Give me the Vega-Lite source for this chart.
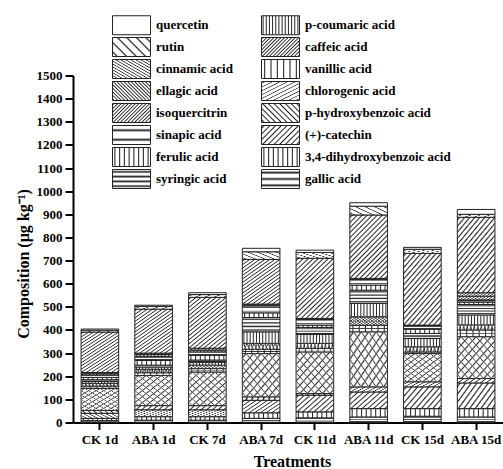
{
  "$schema": "https://vega.github.io/schema/vega-lite/v6.json",
  "width": 430,
  "height": 347,
  "autosize": {"type": "none"},
  "padding": {"left": 73, "top": 75.5, "right": 0, "bottom": 46.5},
  "background": "white",
  "config": {"view": {"stroke": null}, "font": "Liberation Serif"},
  "params": [
    {
      "name": "pats",
      "value": {
        "quercetin": "#ffffff",
        "p-coumaric acid": {"gradient": "linear", "x1": 0, "y1": 0, "x2": 1, "y2": 0, "stops": [
          {"offset": 0.016, "color": "#fff"}, {"offset": 0.042, "color": "#222"}, {"offset": 0.068, "color": "#fff"},
          {"offset": 0.099, "color": "#fff"}, {"offset": 0.125, "color": "#222"}, {"offset": 0.151, "color": "#fff"},
          {"offset": 0.182, "color": "#fff"}, {"offset": 0.208, "color": "#222"}, {"offset": 0.234, "color": "#fff"},
          {"offset": 0.266, "color": "#fff"}, {"offset": 0.292, "color": "#222"}, {"offset": 0.318, "color": "#fff"},
          {"offset": 0.349, "color": "#fff"}, {"offset": 0.375, "color": "#222"}, {"offset": 0.401, "color": "#fff"},
          {"offset": 0.432, "color": "#fff"}, {"offset": 0.458, "color": "#222"}, {"offset": 0.484, "color": "#fff"},
          {"offset": 0.516, "color": "#fff"}, {"offset": 0.542, "color": "#222"}, {"offset": 0.568, "color": "#fff"},
          {"offset": 0.599, "color": "#fff"}, {"offset": 0.625, "color": "#222"}, {"offset": 0.651, "color": "#fff"},
          {"offset": 0.682, "color": "#fff"}, {"offset": 0.708, "color": "#222"}, {"offset": 0.734, "color": "#fff"},
          {"offset": 0.766, "color": "#fff"}, {"offset": 0.792, "color": "#222"}, {"offset": 0.818, "color": "#fff"},
          {"offset": 0.849, "color": "#fff"}, {"offset": 0.875, "color": "#222"}, {"offset": 0.901, "color": "#fff"},
          {"offset": 0.932, "color": "#fff"}, {"offset": 0.958, "color": "#222"}, {"offset": 0.984, "color": "#fff"}
        ]},
        "rutin": {"gradient": "linear", "x1": 0, "y1": 1, "x2": 1.2, "y2": 0.4, "stops": [
          {"offset": 0.053, "color": "#fff"}, {"offset": 0.083, "color": "#222"}, {"offset": 0.113, "color": "#fff"},
          {"offset": 0.22, "color": "#fff"}, {"offset": 0.25, "color": "#222"}, {"offset": 0.28, "color": "#fff"},
          {"offset": 0.387, "color": "#fff"}, {"offset": 0.417, "color": "#222"}, {"offset": 0.447, "color": "#fff"},
          {"offset": 0.553, "color": "#fff"}, {"offset": 0.583, "color": "#222"}, {"offset": 0.613, "color": "#fff"},
          {"offset": 0.72, "color": "#fff"}, {"offset": 0.75, "color": "#222"}, {"offset": 0.78, "color": "#fff"},
          {"offset": 0.887, "color": "#fff"}, {"offset": 0.917, "color": "#222"}, {"offset": 0.947, "color": "#fff"}
        ]},
        "caffeic acid": {"gradient": "linear", "x1": 0, "y1": 0, "x2": 1.2, "y2": 0.6, "stops": [
          {"offset": 0.009, "color": "#fff"}, {"offset": 0.031, "color": "#222"}, {"offset": 0.053, "color": "#fff"},
          {"offset": 0.072, "color": "#fff"}, {"offset": 0.094, "color": "#222"}, {"offset": 0.116, "color": "#fff"},
          {"offset": 0.134, "color": "#fff"}, {"offset": 0.156, "color": "#222"}, {"offset": 0.178, "color": "#fff"},
          {"offset": 0.197, "color": "#fff"}, {"offset": 0.219, "color": "#222"}, {"offset": 0.241, "color": "#fff"},
          {"offset": 0.259, "color": "#fff"}, {"offset": 0.281, "color": "#222"}, {"offset": 0.303, "color": "#fff"},
          {"offset": 0.322, "color": "#fff"}, {"offset": 0.344, "color": "#222"}, {"offset": 0.366, "color": "#fff"},
          {"offset": 0.384, "color": "#fff"}, {"offset": 0.406, "color": "#222"}, {"offset": 0.428, "color": "#fff"},
          {"offset": 0.447, "color": "#fff"}, {"offset": 0.469, "color": "#222"}, {"offset": 0.491, "color": "#fff"},
          {"offset": 0.509, "color": "#fff"}, {"offset": 0.531, "color": "#222"}, {"offset": 0.553, "color": "#fff"},
          {"offset": 0.572, "color": "#fff"}, {"offset": 0.594, "color": "#222"}, {"offset": 0.616, "color": "#fff"},
          {"offset": 0.634, "color": "#fff"}, {"offset": 0.656, "color": "#222"}, {"offset": 0.678, "color": "#fff"},
          {"offset": 0.697, "color": "#fff"}, {"offset": 0.719, "color": "#222"}, {"offset": 0.741, "color": "#fff"},
          {"offset": 0.759, "color": "#fff"}, {"offset": 0.781, "color": "#222"}, {"offset": 0.803, "color": "#fff"},
          {"offset": 0.822, "color": "#fff"}, {"offset": 0.844, "color": "#222"}, {"offset": 0.866, "color": "#fff"},
          {"offset": 0.884, "color": "#fff"}, {"offset": 0.906, "color": "#222"}, {"offset": 0.928, "color": "#fff"},
          {"offset": 0.947, "color": "#fff"}, {"offset": 0.969, "color": "#222"}, {"offset": 0.991, "color": "#fff"}
        ]},
        "cinnamic acid": {"gradient": "linear", "x1": 0, "y1": 0, "x2": 0.706, "y2": 1.176, "stops": [
          {"offset": 0.011, "color": "#fff"}, {"offset": 0.025, "color": "#222"}, {"offset": 0.039, "color": "#fff"},
          {"offset": 0.061, "color": "#fff"}, {"offset": 0.075, "color": "#222"}, {"offset": 0.089, "color": "#fff"},
          {"offset": 0.111, "color": "#fff"}, {"offset": 0.125, "color": "#222"}, {"offset": 0.139, "color": "#fff"},
          {"offset": 0.161, "color": "#fff"}, {"offset": 0.175, "color": "#222"}, {"offset": 0.189, "color": "#fff"},
          {"offset": 0.211, "color": "#fff"}, {"offset": 0.225, "color": "#222"}, {"offset": 0.239, "color": "#fff"},
          {"offset": 0.261, "color": "#fff"}, {"offset": 0.275, "color": "#222"}, {"offset": 0.289, "color": "#fff"},
          {"offset": 0.311, "color": "#fff"}, {"offset": 0.325, "color": "#222"}, {"offset": 0.339, "color": "#fff"},
          {"offset": 0.361, "color": "#fff"}, {"offset": 0.375, "color": "#222"}, {"offset": 0.389, "color": "#fff"},
          {"offset": 0.411, "color": "#fff"}, {"offset": 0.425, "color": "#222"}, {"offset": 0.439, "color": "#fff"},
          {"offset": 0.461, "color": "#fff"}, {"offset": 0.475, "color": "#222"}, {"offset": 0.489, "color": "#fff"},
          {"offset": 0.511, "color": "#fff"}, {"offset": 0.525, "color": "#222"}, {"offset": 0.539, "color": "#fff"},
          {"offset": 0.561, "color": "#fff"}, {"offset": 0.575, "color": "#222"}, {"offset": 0.589, "color": "#fff"},
          {"offset": 0.611, "color": "#fff"}, {"offset": 0.625, "color": "#222"}, {"offset": 0.639, "color": "#fff"},
          {"offset": 0.661, "color": "#fff"}, {"offset": 0.675, "color": "#222"}, {"offset": 0.689, "color": "#fff"},
          {"offset": 0.711, "color": "#fff"}, {"offset": 0.725, "color": "#222"}, {"offset": 0.739, "color": "#fff"},
          {"offset": 0.761, "color": "#fff"}, {"offset": 0.775, "color": "#222"}, {"offset": 0.789, "color": "#fff"},
          {"offset": 0.811, "color": "#fff"}, {"offset": 0.825, "color": "#222"}, {"offset": 0.839, "color": "#fff"},
          {"offset": 0.861, "color": "#fff"}, {"offset": 0.875, "color": "#222"}, {"offset": 0.889, "color": "#fff"},
          {"offset": 0.911, "color": "#fff"}, {"offset": 0.925, "color": "#222"}, {"offset": 0.939, "color": "#fff"},
          {"offset": 0.961, "color": "#fff"}, {"offset": 0.975, "color": "#222"}, {"offset": 0.989, "color": "#fff"}
        ]},
        "vanillic acid": {"gradient": "linear", "x1": 0, "y1": 0, "x2": 1, "y2": 0, "stops": [
          {"offset": 0.055, "color": "#fff"}, {"offset": 0.083, "color": "#222"}, {"offset": 0.111, "color": "#fff"},
          {"offset": 0.222, "color": "#fff"}, {"offset": 0.25, "color": "#222"}, {"offset": 0.278, "color": "#fff"},
          {"offset": 0.389, "color": "#fff"}, {"offset": 0.417, "color": "#222"}, {"offset": 0.445, "color": "#fff"},
          {"offset": 0.555, "color": "#fff"}, {"offset": 0.583, "color": "#222"}, {"offset": 0.611, "color": "#fff"},
          {"offset": 0.722, "color": "#fff"}, {"offset": 0.75, "color": "#222"}, {"offset": 0.778, "color": "#fff"},
          {"offset": 0.889, "color": "#fff"}, {"offset": 0.917, "color": "#222"}, {"offset": 0.945, "color": "#fff"}
        ]},
        "ellagic acid": {"gradient": "linear", "x1": 0, "y1": 1, "x2": 1.2, "y2": 0.4, "stops": [
          {"offset": 0.009, "color": "#fff"}, {"offset": 0.031, "color": "#222"}, {"offset": 0.053, "color": "#fff"},
          {"offset": 0.072, "color": "#fff"}, {"offset": 0.094, "color": "#222"}, {"offset": 0.116, "color": "#fff"},
          {"offset": 0.134, "color": "#fff"}, {"offset": 0.156, "color": "#222"}, {"offset": 0.178, "color": "#fff"},
          {"offset": 0.197, "color": "#fff"}, {"offset": 0.219, "color": "#222"}, {"offset": 0.241, "color": "#fff"},
          {"offset": 0.259, "color": "#fff"}, {"offset": 0.281, "color": "#222"}, {"offset": 0.303, "color": "#fff"},
          {"offset": 0.322, "color": "#fff"}, {"offset": 0.344, "color": "#222"}, {"offset": 0.366, "color": "#fff"},
          {"offset": 0.384, "color": "#fff"}, {"offset": 0.406, "color": "#222"}, {"offset": 0.428, "color": "#fff"},
          {"offset": 0.447, "color": "#fff"}, {"offset": 0.469, "color": "#222"}, {"offset": 0.491, "color": "#fff"},
          {"offset": 0.509, "color": "#fff"}, {"offset": 0.531, "color": "#222"}, {"offset": 0.553, "color": "#fff"},
          {"offset": 0.572, "color": "#fff"}, {"offset": 0.594, "color": "#222"}, {"offset": 0.616, "color": "#fff"},
          {"offset": 0.634, "color": "#fff"}, {"offset": 0.656, "color": "#222"}, {"offset": 0.678, "color": "#fff"},
          {"offset": 0.697, "color": "#fff"}, {"offset": 0.719, "color": "#222"}, {"offset": 0.741, "color": "#fff"},
          {"offset": 0.759, "color": "#fff"}, {"offset": 0.781, "color": "#222"}, {"offset": 0.803, "color": "#fff"},
          {"offset": 0.822, "color": "#fff"}, {"offset": 0.844, "color": "#222"}, {"offset": 0.866, "color": "#fff"},
          {"offset": 0.884, "color": "#fff"}, {"offset": 0.906, "color": "#222"}, {"offset": 0.928, "color": "#fff"},
          {"offset": 0.947, "color": "#fff"}, {"offset": 0.969, "color": "#222"}, {"offset": 0.991, "color": "#fff"}
        ]},
        "chlorogenic acid": {"gradient": "linear", "x1": 0, "y1": 0, "x2": 1, "y2": 1, "stops": [
          {"offset": 0.03, "color": "#fff"}, {"offset": 0.05, "color": "#333"}, {"offset": 0.07, "color": "#fff"},
          {"offset": 0.13, "color": "#fff"}, {"offset": 0.15, "color": "#333"}, {"offset": 0.17, "color": "#fff"},
          {"offset": 0.23, "color": "#fff"}, {"offset": 0.25, "color": "#333"}, {"offset": 0.27, "color": "#fff"},
          {"offset": 0.33, "color": "#fff"}, {"offset": 0.35, "color": "#333"}, {"offset": 0.37, "color": "#fff"},
          {"offset": 0.43, "color": "#fff"}, {"offset": 0.45, "color": "#333"}, {"offset": 0.47, "color": "#fff"},
          {"offset": 0.53, "color": "#fff"}, {"offset": 0.55, "color": "#333"}, {"offset": 0.57, "color": "#fff"},
          {"offset": 0.63, "color": "#fff"}, {"offset": 0.65, "color": "#333"}, {"offset": 0.67, "color": "#fff"},
          {"offset": 0.73, "color": "#fff"}, {"offset": 0.75, "color": "#333"}, {"offset": 0.77, "color": "#fff"},
          {"offset": 0.83, "color": "#fff"}, {"offset": 0.85, "color": "#333"}, {"offset": 0.87, "color": "#fff"},
          {"offset": 0.93, "color": "#fff"}, {"offset": 0.95, "color": "#333"}, {"offset": 0.97, "color": "#fff"}
        ]},
        "isoquercitrin": {"gradient": "linear", "x1": 0, "y1": 0, "x2": 1.2, "y2": 0.6, "stops": [
          {"offset": 0.009, "color": "#fff"}, {"offset": 0.031, "color": "#222"}, {"offset": 0.053, "color": "#fff"},
          {"offset": 0.072, "color": "#fff"}, {"offset": 0.094, "color": "#222"}, {"offset": 0.116, "color": "#fff"},
          {"offset": 0.134, "color": "#fff"}, {"offset": 0.156, "color": "#222"}, {"offset": 0.178, "color": "#fff"},
          {"offset": 0.197, "color": "#fff"}, {"offset": 0.219, "color": "#222"}, {"offset": 0.241, "color": "#fff"},
          {"offset": 0.259, "color": "#fff"}, {"offset": 0.281, "color": "#222"}, {"offset": 0.303, "color": "#fff"},
          {"offset": 0.322, "color": "#fff"}, {"offset": 0.344, "color": "#222"}, {"offset": 0.366, "color": "#fff"},
          {"offset": 0.384, "color": "#fff"}, {"offset": 0.406, "color": "#222"}, {"offset": 0.428, "color": "#fff"},
          {"offset": 0.447, "color": "#fff"}, {"offset": 0.469, "color": "#222"}, {"offset": 0.491, "color": "#fff"},
          {"offset": 0.509, "color": "#fff"}, {"offset": 0.531, "color": "#222"}, {"offset": 0.553, "color": "#fff"},
          {"offset": 0.572, "color": "#fff"}, {"offset": 0.594, "color": "#222"}, {"offset": 0.616, "color": "#fff"},
          {"offset": 0.634, "color": "#fff"}, {"offset": 0.656, "color": "#222"}, {"offset": 0.678, "color": "#fff"},
          {"offset": 0.697, "color": "#fff"}, {"offset": 0.719, "color": "#222"}, {"offset": 0.741, "color": "#fff"},
          {"offset": 0.759, "color": "#fff"}, {"offset": 0.781, "color": "#222"}, {"offset": 0.803, "color": "#fff"},
          {"offset": 0.822, "color": "#fff"}, {"offset": 0.844, "color": "#222"}, {"offset": 0.866, "color": "#fff"},
          {"offset": 0.884, "color": "#fff"}, {"offset": 0.906, "color": "#222"}, {"offset": 0.928, "color": "#fff"},
          {"offset": 0.947, "color": "#fff"}, {"offset": 0.969, "color": "#222"}, {"offset": 0.991, "color": "#fff"}
        ]},
        "p-hydroxybenzoic acid": {"gradient": "linear", "x1": 0, "y1": 1, "x2": 1.2, "y2": 0.4, "stops": [
          {"offset": 0.025, "color": "#fff"}, {"offset": 0.05, "color": "#222"}, {"offset": 0.075, "color": "#fff"},
          {"offset": 0.125, "color": "#fff"}, {"offset": 0.15, "color": "#222"}, {"offset": 0.175, "color": "#fff"},
          {"offset": 0.225, "color": "#fff"}, {"offset": 0.25, "color": "#222"}, {"offset": 0.275, "color": "#fff"},
          {"offset": 0.325, "color": "#fff"}, {"offset": 0.35, "color": "#222"}, {"offset": 0.375, "color": "#fff"},
          {"offset": 0.425, "color": "#fff"}, {"offset": 0.45, "color": "#222"}, {"offset": 0.475, "color": "#fff"},
          {"offset": 0.525, "color": "#fff"}, {"offset": 0.55, "color": "#222"}, {"offset": 0.575, "color": "#fff"},
          {"offset": 0.625, "color": "#fff"}, {"offset": 0.65, "color": "#222"}, {"offset": 0.675, "color": "#fff"},
          {"offset": 0.725, "color": "#fff"}, {"offset": 0.75, "color": "#222"}, {"offset": 0.775, "color": "#fff"},
          {"offset": 0.825, "color": "#fff"}, {"offset": 0.85, "color": "#222"}, {"offset": 0.875, "color": "#fff"},
          {"offset": 0.925, "color": "#fff"}, {"offset": 0.95, "color": "#222"}, {"offset": 0.975, "color": "#fff"}
        ]},
        "sinapic acid": {"gradient": "linear", "x1": 0, "y1": 0, "x2": 0.0001, "y2": 1, "stops": [
          {"offset": 0.15, "color": "#fff"}, {"offset": 0.25, "color": "#222"}, {"offset": 0.35, "color": "#fff"},
          {"offset": 0.65, "color": "#fff"}, {"offset": 0.75, "color": "#222"}, {"offset": 0.85, "color": "#fff"}
        ]},
        "(+)-catechin": {"gradient": "linear", "x1": 0, "y1": 0, "x2": 1.2, "y2": 0.6, "stops": [
          {"offset": 0.025, "color": "#fff"}, {"offset": 0.05, "color": "#222"}, {"offset": 0.075, "color": "#fff"},
          {"offset": 0.125, "color": "#fff"}, {"offset": 0.15, "color": "#222"}, {"offset": 0.175, "color": "#fff"},
          {"offset": 0.225, "color": "#fff"}, {"offset": 0.25, "color": "#222"}, {"offset": 0.275, "color": "#fff"},
          {"offset": 0.325, "color": "#fff"}, {"offset": 0.35, "color": "#222"}, {"offset": 0.375, "color": "#fff"},
          {"offset": 0.425, "color": "#fff"}, {"offset": 0.45, "color": "#222"}, {"offset": 0.475, "color": "#fff"},
          {"offset": 0.525, "color": "#fff"}, {"offset": 0.55, "color": "#222"}, {"offset": 0.575, "color": "#fff"},
          {"offset": 0.625, "color": "#fff"}, {"offset": 0.65, "color": "#222"}, {"offset": 0.675, "color": "#fff"},
          {"offset": 0.725, "color": "#fff"}, {"offset": 0.75, "color": "#222"}, {"offset": 0.775, "color": "#fff"},
          {"offset": 0.825, "color": "#fff"}, {"offset": 0.85, "color": "#222"}, {"offset": 0.875, "color": "#fff"},
          {"offset": 0.925, "color": "#fff"}, {"offset": 0.95, "color": "#222"}, {"offset": 0.975, "color": "#fff"}
        ]},
        "ferulic acid": {"gradient": "linear", "x1": 0, "y1": 0, "x2": 1, "y2": 0, "stops": [
          {"offset": 0.035, "color": "#fff"}, {"offset": 0.0625, "color": "#222"}, {"offset": 0.09, "color": "#fff"},
          {"offset": 0.16, "color": "#fff"}, {"offset": 0.1875, "color": "#222"}, {"offset": 0.215, "color": "#fff"},
          {"offset": 0.285, "color": "#fff"}, {"offset": 0.3125, "color": "#222"}, {"offset": 0.34, "color": "#fff"},
          {"offset": 0.41, "color": "#fff"}, {"offset": 0.4375, "color": "#222"}, {"offset": 0.465, "color": "#fff"},
          {"offset": 0.535, "color": "#fff"}, {"offset": 0.5625, "color": "#222"}, {"offset": 0.59, "color": "#fff"},
          {"offset": 0.66, "color": "#fff"}, {"offset": 0.6875, "color": "#222"}, {"offset": 0.715, "color": "#fff"},
          {"offset": 0.785, "color": "#fff"}, {"offset": 0.8125, "color": "#222"}, {"offset": 0.84, "color": "#fff"},
          {"offset": 0.91, "color": "#fff"}, {"offset": 0.9375, "color": "#222"}, {"offset": 0.965, "color": "#fff"}
        ]},
        "3,4-dihydroxybenzoic acid": {"gradient": "linear", "x1": 0, "y1": 0, "x2": 1, "y2": 0, "stops": [
          {"offset": 0.035, "color": "#fff"}, {"offset": 0.0625, "color": "#222"}, {"offset": 0.09, "color": "#fff"},
          {"offset": 0.16, "color": "#fff"}, {"offset": 0.1875, "color": "#222"}, {"offset": 0.215, "color": "#fff"},
          {"offset": 0.285, "color": "#fff"}, {"offset": 0.3125, "color": "#222"}, {"offset": 0.34, "color": "#fff"},
          {"offset": 0.41, "color": "#fff"}, {"offset": 0.4375, "color": "#222"}, {"offset": 0.465, "color": "#fff"},
          {"offset": 0.535, "color": "#fff"}, {"offset": 0.5625, "color": "#222"}, {"offset": 0.59, "color": "#fff"},
          {"offset": 0.66, "color": "#fff"}, {"offset": 0.6875, "color": "#222"}, {"offset": 0.715, "color": "#fff"},
          {"offset": 0.785, "color": "#fff"}, {"offset": 0.8125, "color": "#222"}, {"offset": 0.84, "color": "#fff"},
          {"offset": 0.91, "color": "#fff"}, {"offset": 0.9375, "color": "#222"}, {"offset": 0.965, "color": "#fff"}
        ]},
        "syringic acid": {"gradient": "linear", "x1": 0, "y1": 0, "x2": 0.0001, "y2": 1, "stops": [
          {"offset": 0.035, "color": "#fff"}, {"offset": 0.125, "color": "#222"}, {"offset": 0.215, "color": "#fff"},
          {"offset": 0.285, "color": "#fff"}, {"offset": 0.375, "color": "#222"}, {"offset": 0.465, "color": "#fff"},
          {"offset": 0.535, "color": "#fff"}, {"offset": 0.625, "color": "#222"}, {"offset": 0.715, "color": "#fff"},
          {"offset": 0.785, "color": "#fff"}, {"offset": 0.875, "color": "#222"}, {"offset": 0.965, "color": "#fff"}
        ]},
        "gallic acid": {"gradient": "linear", "x1": 0, "y1": 0, "x2": 0.0001, "y2": 1, "stops": [
          {"offset": 0.067, "color": "#fff"}, {"offset": 0.167, "color": "#222"}, {"offset": 0.267, "color": "#fff"},
          {"offset": 0.4, "color": "#fff"}, {"offset": 0.5, "color": "#222"}, {"offset": 0.6, "color": "#fff"},
          {"offset": 0.733, "color": "#fff"}, {"offset": 0.833, "color": "#222"}, {"offset": 0.933, "color": "#fff"}
        ]}
      }
    },
    {
      "name": "cross",
      "value": {
        "caffeic acid": {"gradient": "linear", "x1": 0, "y1": 1, "x2": 1.2, "y2": 0.4, "stops": [
          {"offset": 0.009, "color": "rgba(255,255,255,0)"}, {"offset": 0.031, "color": "#222"}, {"offset": 0.053, "color": "rgba(255,255,255,0)"},
          {"offset": 0.072, "color": "rgba(255,255,255,0)"}, {"offset": 0.094, "color": "#222"}, {"offset": 0.116, "color": "rgba(255,255,255,0)"},
          {"offset": 0.134, "color": "rgba(255,255,255,0)"}, {"offset": 0.156, "color": "#222"}, {"offset": 0.178, "color": "rgba(255,255,255,0)"},
          {"offset": 0.197, "color": "rgba(255,255,255,0)"}, {"offset": 0.219, "color": "#222"}, {"offset": 0.241, "color": "rgba(255,255,255,0)"},
          {"offset": 0.259, "color": "rgba(255,255,255,0)"}, {"offset": 0.281, "color": "#222"}, {"offset": 0.303, "color": "rgba(255,255,255,0)"},
          {"offset": 0.322, "color": "rgba(255,255,255,0)"}, {"offset": 0.344, "color": "#222"}, {"offset": 0.366, "color": "rgba(255,255,255,0)"},
          {"offset": 0.384, "color": "rgba(255,255,255,0)"}, {"offset": 0.406, "color": "#222"}, {"offset": 0.428, "color": "rgba(255,255,255,0)"},
          {"offset": 0.447, "color": "rgba(255,255,255,0)"}, {"offset": 0.469, "color": "#222"}, {"offset": 0.491, "color": "rgba(255,255,255,0)"},
          {"offset": 0.509, "color": "rgba(255,255,255,0)"}, {"offset": 0.531, "color": "#222"}, {"offset": 0.553, "color": "rgba(255,255,255,0)"},
          {"offset": 0.572, "color": "rgba(255,255,255,0)"}, {"offset": 0.594, "color": "#222"}, {"offset": 0.616, "color": "rgba(255,255,255,0)"},
          {"offset": 0.634, "color": "rgba(255,255,255,0)"}, {"offset": 0.656, "color": "#222"}, {"offset": 0.678, "color": "rgba(255,255,255,0)"},
          {"offset": 0.697, "color": "rgba(255,255,255,0)"}, {"offset": 0.719, "color": "#222"}, {"offset": 0.741, "color": "rgba(255,255,255,0)"},
          {"offset": 0.759, "color": "rgba(255,255,255,0)"}, {"offset": 0.781, "color": "#222"}, {"offset": 0.803, "color": "rgba(255,255,255,0)"},
          {"offset": 0.822, "color": "rgba(255,255,255,0)"}, {"offset": 0.844, "color": "#222"}, {"offset": 0.866, "color": "rgba(255,255,255,0)"},
          {"offset": 0.884, "color": "rgba(255,255,255,0)"}, {"offset": 0.906, "color": "#222"}, {"offset": 0.928, "color": "rgba(255,255,255,0)"},
          {"offset": 0.947, "color": "rgba(255,255,255,0)"}, {"offset": 0.969, "color": "#222"}, {"offset": 0.991, "color": "rgba(255,255,255,0)"}
        ]},
        "vanillic acid": {"gradient": "linear", "x1": 0, "y1": 0, "x2": 0.0001, "y2": 1, "stops": [
          {"offset": 0.35, "color": "rgba(255,255,255,0)"}, {"offset": 0.5, "color": "#222"}, {"offset": 0.65, "color": "rgba(255,255,255,0)"}
        ]},
        "chlorogenic acid": {"gradient": "linear", "x1": 0, "y1": 1, "x2": 1, "y2": 0, "stops": [
          {"offset": 0.03, "color": "rgba(255,255,255,0)"}, {"offset": 0.05, "color": "#333"}, {"offset": 0.07, "color": "rgba(255,255,255,0)"},
          {"offset": 0.13, "color": "rgba(255,255,255,0)"}, {"offset": 0.15, "color": "#333"}, {"offset": 0.17, "color": "rgba(255,255,255,0)"},
          {"offset": 0.23, "color": "rgba(255,255,255,0)"}, {"offset": 0.25, "color": "#333"}, {"offset": 0.27, "color": "rgba(255,255,255,0)"},
          {"offset": 0.33, "color": "rgba(255,255,255,0)"}, {"offset": 0.35, "color": "#333"}, {"offset": 0.37, "color": "rgba(255,255,255,0)"},
          {"offset": 0.43, "color": "rgba(255,255,255,0)"}, {"offset": 0.45, "color": "#333"}, {"offset": 0.47, "color": "rgba(255,255,255,0)"},
          {"offset": 0.53, "color": "rgba(255,255,255,0)"}, {"offset": 0.55, "color": "#333"}, {"offset": 0.57, "color": "rgba(255,255,255,0)"},
          {"offset": 0.63, "color": "rgba(255,255,255,0)"}, {"offset": 0.65, "color": "#333"}, {"offset": 0.67, "color": "rgba(255,255,255,0)"},
          {"offset": 0.73, "color": "rgba(255,255,255,0)"}, {"offset": 0.75, "color": "#333"}, {"offset": 0.77, "color": "rgba(255,255,255,0)"},
          {"offset": 0.83, "color": "rgba(255,255,255,0)"}, {"offset": 0.85, "color": "#333"}, {"offset": 0.87, "color": "rgba(255,255,255,0)"},
          {"offset": 0.93, "color": "rgba(255,255,255,0)"}, {"offset": 0.95, "color": "#333"}, {"offset": 0.97, "color": "rgba(255,255,255,0)"}
        ]}
      }
    }
  ],
  "datasets": {
    "stackOrder": [
      {"c": "gallic acid", "k": 1},
      {"c": "3,4-dihydroxybenzoic acid", "k": 2},
      {"c": "(+)-catechin", "k": 3},
      {"c": "p-hydroxybenzoic acid", "k": 4},
      {"c": "chlorogenic acid", "k": 5},
      {"c": "vanillic acid", "k": 6},
      {"c": "caffeic acid", "k": 7},
      {"c": "p-coumaric acid", "k": 8},
      {"c": "syringic acid", "k": 9},
      {"c": "ferulic acid", "k": 10},
      {"c": "sinapic acid", "k": 11},
      {"c": "isoquercitrin", "k": 12},
      {"c": "ellagic acid", "k": 13},
      {"c": "cinnamic acid", "k": 14},
      {"c": "rutin", "k": 15},
      {"c": "quercetin", "k": 16}
    ]
  },
  "data": {
    "values": [
      {"t": "CK 1d", "c": "gallic acid", "v": 8},
      {"t": "CK 1d", "c": "3,4-dihydroxybenzoic acid", "v": 10},
      {"t": "CK 1d", "c": "(+)-catechin", "v": 22},
      {"t": "CK 1d", "c": "p-hydroxybenzoic acid", "v": 12},
      {"t": "CK 1d", "c": "chlorogenic acid", "v": 95},
      {"t": "CK 1d", "c": "vanillic acid", "v": 10},
      {"t": "CK 1d", "c": "caffeic acid", "v": 12},
      {"t": "CK 1d", "c": "p-coumaric acid", "v": 8},
      {"t": "CK 1d", "c": "syringic acid", "v": 8},
      {"t": "CK 1d", "c": "ferulic acid", "v": 10},
      {"t": "CK 1d", "c": "sinapic acid", "v": 10},
      {"t": "CK 1d", "c": "isoquercitrin", "v": 6},
      {"t": "CK 1d", "c": "ellagic acid", "v": 5},
      {"t": "CK 1d", "c": "cinnamic acid", "v": 175},
      {"t": "CK 1d", "c": "rutin", "v": 8},
      {"t": "CK 1d", "c": "quercetin", "v": 5},
      {"t": "ABA 1d", "c": "gallic acid", "v": 10},
      {"t": "ABA 1d", "c": "3,4-dihydroxybenzoic acid", "v": 15},
      {"t": "ABA 1d", "c": "(+)-catechin", "v": 30},
      {"t": "ABA 1d", "c": "p-hydroxybenzoic acid", "v": 18},
      {"t": "ABA 1d", "c": "chlorogenic acid", "v": 130},
      {"t": "ABA 1d", "c": "vanillic acid", "v": 12},
      {"t": "ABA 1d", "c": "caffeic acid", "v": 15},
      {"t": "ABA 1d", "c": "p-coumaric acid", "v": 10},
      {"t": "ABA 1d", "c": "syringic acid", "v": 8},
      {"t": "ABA 1d", "c": "ferulic acid", "v": 20},
      {"t": "ABA 1d", "c": "sinapic acid", "v": 18},
      {"t": "ABA 1d", "c": "isoquercitrin", "v": 8},
      {"t": "ABA 1d", "c": "ellagic acid", "v": 6},
      {"t": "ABA 1d", "c": "cinnamic acid", "v": 190},
      {"t": "ABA 1d", "c": "rutin", "v": 12},
      {"t": "ABA 1d", "c": "quercetin", "v": 5},
      {"t": "CK 7d", "c": "gallic acid", "v": 10},
      {"t": "CK 7d", "c": "3,4-dihydroxybenzoic acid", "v": 15},
      {"t": "CK 7d", "c": "(+)-catechin", "v": 30},
      {"t": "CK 7d", "c": "p-hydroxybenzoic acid", "v": 18},
      {"t": "CK 7d", "c": "chlorogenic acid", "v": 145},
      {"t": "CK 7d", "c": "vanillic acid", "v": 15},
      {"t": "CK 7d", "c": "caffeic acid", "v": 15},
      {"t": "CK 7d", "c": "p-coumaric acid", "v": 12},
      {"t": "CK 7d", "c": "syringic acid", "v": 10},
      {"t": "CK 7d", "c": "ferulic acid", "v": 20},
      {"t": "CK 7d", "c": "sinapic acid", "v": 15},
      {"t": "CK 7d", "c": "isoquercitrin", "v": 8},
      {"t": "CK 7d", "c": "ellagic acid", "v": 8},
      {"t": "CK 7d", "c": "cinnamic acid", "v": 220},
      {"t": "CK 7d", "c": "rutin", "v": 12},
      {"t": "CK 7d", "c": "quercetin", "v": 8},
      {"t": "ABA 7d", "c": "gallic acid", "v": 18},
      {"t": "ABA 7d", "c": "3,4-dihydroxybenzoic acid", "v": 24},
      {"t": "ABA 7d", "c": "(+)-catechin", "v": 54},
      {"t": "ABA 7d", "c": "p-hydroxybenzoic acid", "v": 15},
      {"t": "ABA 7d", "c": "chlorogenic acid", "v": 187},
      {"t": "ABA 7d", "c": "vanillic acid", "v": 18},
      {"t": "ABA 7d", "c": "caffeic acid", "v": 26},
      {"t": "ABA 7d", "c": "p-coumaric acid", "v": 50},
      {"t": "ABA 7d", "c": "syringic acid", "v": 62},
      {"t": "ABA 7d", "c": "ferulic acid", "v": 20},
      {"t": "ABA 7d", "c": "sinapic acid", "v": 30},
      {"t": "ABA 7d", "c": "isoquercitrin", "v": 4},
      {"t": "ABA 7d", "c": "ellagic acid", "v": 4},
      {"t": "ABA 7d", "c": "cinnamic acid", "v": 193},
      {"t": "ABA 7d", "c": "rutin", "v": 33},
      {"t": "ABA 7d", "c": "quercetin", "v": 15},
      {"t": "CK 11d", "c": "gallic acid", "v": 20},
      {"t": "CK 11d", "c": "3,4-dihydroxybenzoic acid", "v": 26},
      {"t": "CK 11d", "c": "(+)-catechin", "v": 72},
      {"t": "CK 11d", "c": "p-hydroxybenzoic acid", "v": 7},
      {"t": "CK 11d", "c": "chlorogenic acid", "v": 180},
      {"t": "CK 11d", "c": "vanillic acid", "v": 15},
      {"t": "CK 11d", "c": "caffeic acid", "v": 22},
      {"t": "CK 11d", "c": "p-coumaric acid", "v": 39},
      {"t": "CK 11d", "c": "syringic acid", "v": 30},
      {"t": "CK 11d", "c": "ferulic acid", "v": 10},
      {"t": "CK 11d", "c": "sinapic acid", "v": 25},
      {"t": "CK 11d", "c": "isoquercitrin", "v": 2},
      {"t": "CK 11d", "c": "ellagic acid", "v": 2},
      {"t": "CK 11d", "c": "cinnamic acid", "v": 260},
      {"t": "CK 11d", "c": "rutin", "v": 25},
      {"t": "CK 11d", "c": "quercetin", "v": 10},
      {"t": "ABA 11d", "c": "gallic acid", "v": 24},
      {"t": "ABA 11d", "c": "3,4-dihydroxybenzoic acid", "v": 36},
      {"t": "ABA 11d", "c": "(+)-catechin", "v": 72},
      {"t": "ABA 11d", "c": "p-hydroxybenzoic acid", "v": 22},
      {"t": "ABA 11d", "c": "chlorogenic acid", "v": 238},
      {"t": "ABA 11d", "c": "vanillic acid", "v": 28},
      {"t": "ABA 11d", "c": "caffeic acid", "v": 37},
      {"t": "ABA 11d", "c": "p-coumaric acid", "v": 58},
      {"t": "ABA 11d", "c": "syringic acid", "v": 57},
      {"t": "ABA 11d", "c": "ferulic acid", "v": 22},
      {"t": "ABA 11d", "c": "sinapic acid", "v": 25},
      {"t": "ABA 11d", "c": "isoquercitrin", "v": 2},
      {"t": "ABA 11d", "c": "ellagic acid", "v": 2},
      {"t": "ABA 11d", "c": "cinnamic acid", "v": 274},
      {"t": "ABA 11d", "c": "rutin", "v": 38},
      {"t": "ABA 11d", "c": "quercetin", "v": 15},
      {"t": "CK 15d", "c": "gallic acid", "v": 27},
      {"t": "CK 15d", "c": "3,4-dihydroxybenzoic acid", "v": 33},
      {"t": "CK 15d", "c": "(+)-catechin", "v": 94},
      {"t": "CK 15d", "c": "p-hydroxybenzoic acid", "v": 22},
      {"t": "CK 15d", "c": "chlorogenic acid", "v": 122},
      {"t": "CK 15d", "c": "vanillic acid", "v": 7},
      {"t": "CK 15d", "c": "caffeic acid", "v": 22},
      {"t": "CK 15d", "c": "p-coumaric acid", "v": 36},
      {"t": "CK 15d", "c": "syringic acid", "v": 22},
      {"t": "CK 15d", "c": "ferulic acid", "v": 18},
      {"t": "CK 15d", "c": "sinapic acid", "v": 14},
      {"t": "CK 15d", "c": "isoquercitrin", "v": 2},
      {"t": "CK 15d", "c": "ellagic acid", "v": 2},
      {"t": "CK 15d", "c": "cinnamic acid", "v": 310},
      {"t": "CK 15d", "c": "rutin", "v": 18},
      {"t": "CK 15d", "c": "quercetin", "v": 8},
      {"t": "ABA 15d", "c": "gallic acid", "v": 24},
      {"t": "ABA 15d", "c": "3,4-dihydroxybenzoic acid", "v": 36},
      {"t": "ABA 15d", "c": "(+)-catechin", "v": 111},
      {"t": "ABA 15d", "c": "p-hydroxybenzoic acid", "v": 19},
      {"t": "ABA 15d", "c": "chlorogenic acid", "v": 181},
      {"t": "ABA 15d", "c": "vanillic acid", "v": 29},
      {"t": "ABA 15d", "c": "caffeic acid", "v": 22},
      {"t": "ABA 15d", "c": "p-coumaric acid", "v": 43},
      {"t": "ABA 15d", "c": "syringic acid", "v": 45},
      {"t": "ABA 15d", "c": "ferulic acid", "v": 10},
      {"t": "ABA 15d", "c": "sinapic acid", "v": 10},
      {"t": "ABA 15d", "c": "isoquercitrin", "v": 16},
      {"t": "ABA 15d", "c": "ellagic acid", "v": 15},
      {"t": "ABA 15d", "c": "cinnamic acid", "v": 326},
      {"t": "ABA 15d", "c": "rutin", "v": 13},
      {"t": "ABA 15d", "c": "quercetin", "v": 21}
    ]
  },
  "transform": [
    {"lookup": "c", "from": {"data": {"name": "stackOrder"}, "key": "c", "fields": ["k"]}},
    {"stack": "v", "groupby": ["t"], "sort": [{"field": "k", "order": "ascending"}], "as": ["v0", "v1"]}
  ],
  "encoding": {
    "x": {
      "field": "t",
      "type": "nominal",
      "sort": ["CK 1d", "ABA 1d", "CK 7d", "ABA 7d", "CK 11d", "ABA 11d", "CK 15d", "ABA 15d"],
      "scale": {"paddingInner": 0.3, "paddingOuter": 0.15},
      "title": "Treatments",
      "axis": {
        "labelAngle": 0,
        "domainColor": "#000",
        "domainWidth": 2,
        "tickColor": "#000",
        "tickWidth": 2,
        "tickSize": 7,
        "labelFont": "Liberation Serif",
        "labelFontWeight": "bold",
        "labelFontSize": 13,
        "labelColor": "#000",
        "labelPadding": 4,
        "titleFont": "Liberation Serif",
        "titleFontWeight": "bold",
        "titleFontSize": 16,
        "titleColor": "#000",
        "titleX": 219,
        "titleY": 43.5,
        "titleBaseline": "alphabetic",
        "titleAlign": "center"
      }
    },
    "y": {
      "field": "v1",
      "type": "quantitative",
      "scale": {"domain": [0, 1500], "nice": false},
      "title": "Composition (μg kg⁻¹)",
      "axis": {
        "values": [0, 100, 200, 300, 400, 500, 600, 700, 800, 900, 1000, 1100, 1200, 1300, 1400, 1500],
        "format": "d",
        "grid": false,
        "domainColor": "#000",
        "domainWidth": 2,
        "tickColor": "#000",
        "tickWidth": 2,
        "tickSize": 8,
        "labelFont": "Liberation Serif",
        "labelFontWeight": "bold",
        "labelFontSize": 13,
        "labelColor": "#000",
        "labelPadding": 3,
        "titleFont": "Liberation Serif",
        "titleFontWeight": "bold",
        "titleFontSize": 16,
        "titleColor": "#000",
        "titleAngle": -90,
        "titleX": -45,
        "titleY": 188,
        "titleBaseline": "alphabetic",
        "titleAlign": "center"
      }
    },
    "y2": {"field": "v0"}
  },
  "layer": [
    {
      "mark": {"type": "bar", "strokeWidth": 1},
      "encoding": {
        "fill": {"value": {"expr": "pats[datum.c || datum.value]"}},
        "stroke": {
          "field": "c",
          "type": "nominal",
          "scale": {
            "domain": ["quercetin", "rutin", "cinnamic acid", "ellagic acid", "isoquercitrin", "sinapic acid", "ferulic acid", "syringic acid", "p-coumaric acid", "caffeic acid", "vanillic acid", "chlorogenic acid", "p-hydroxybenzoic acid", "(+)-catechin", "3,4-dihydroxybenzoic acid", "gallic acid"],
            "range": ["#222", "#222", "#222", "#222", "#222", "#222", "#222", "#222", "#222", "#222", "#222", "#222", "#222", "#222", "#222", "#222"]
          },
          "legend": {
            "orient": "none",
            "legendX": 39,
            "legendY": -60.5,
            "columns": 2,
            "title": null,
            "padding": 0,
            "symbolType": "M-1,-1H3V1H-1Z",
            "symbolSize": 361,
            "symbolStrokeWidth": 1,
            "symbolOpacity": 1,
            "labelFont": "Liberation Serif",
            "labelFontSize": 13,
            "labelFontWeight": "bold",
            "labelColor": "#000",
            "labelOffset": 24,
            "labelLimit": 300,
            "rowPadding": -2,
            "columnPadding": 26,
            "gridAlign": "each",
            "encode": {
              "symbols": {
                "fill": {"value": {"expr": "pats[datum.value]"}},
                "stroke": {"value": "#000"}
              }
            }
          }
        }
      }
    },
    {
      "transform": [{"filter": {"field": "c", "oneOf": ["caffeic acid", "vanillic acid", "chlorogenic acid"]}}],
      "mark": {"type": "bar", "strokeWidth": 0},
      "encoding": {
        "fill": {"value": {"expr": "cross[datum.c]"}}
      }
    }
  ]
}
